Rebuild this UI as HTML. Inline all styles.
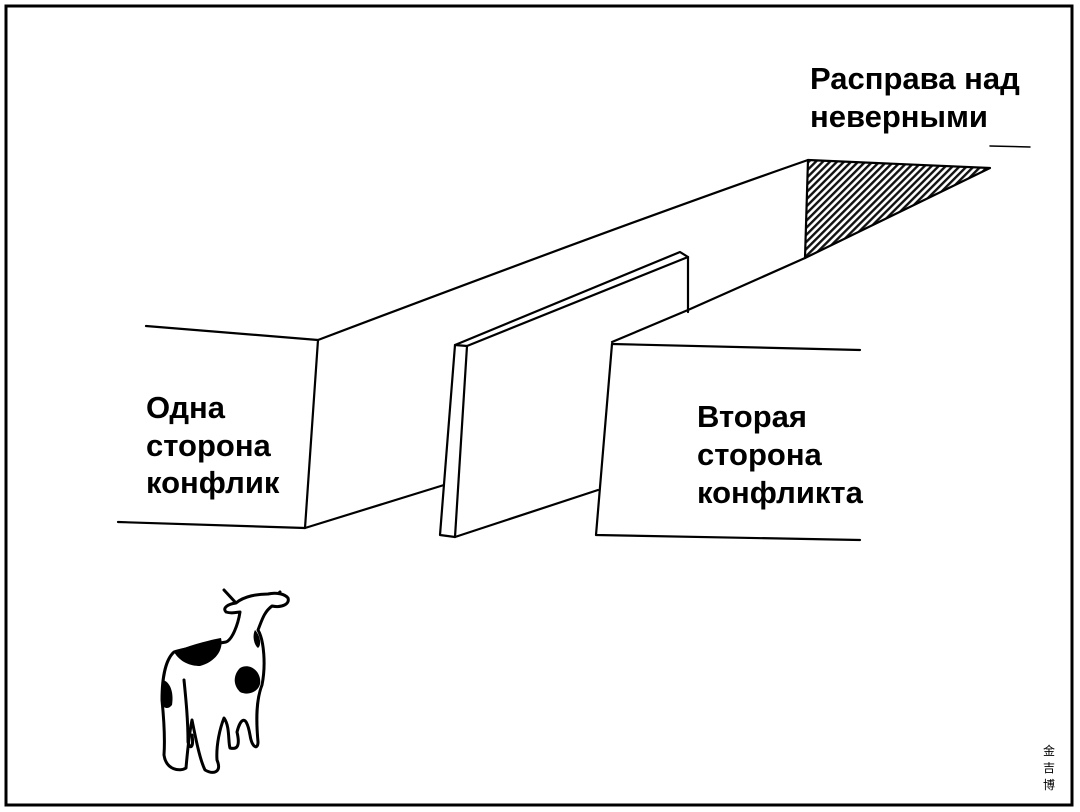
<!DOCTYPE html>
<html><head><meta charset="utf-8"><style>
html,body{margin:0;padding:0;background:#fff;}
svg{display:block}
text{font-family:"Liberation Sans",sans-serif;font-weight:bold;font-size:31px;fill:#000}
</style></head><body>
<svg width="1080" height="812" viewBox="0 0 1080 812" xmlns="http://www.w3.org/2000/svg">
<defs>
<pattern id="h" width="5" height="5" patternUnits="userSpaceOnUse" patternTransform="rotate(45)">
<rect width="5" height="5" fill="#fff"/><rect width="2.4" height="5" fill="#111"/></pattern>
</defs>
<rect x="6" y="6" width="1066" height="799" fill="none" stroke="#000" stroke-width="3"/>
<g fill="none" stroke="#000" stroke-width="2.2" stroke-linecap="round" stroke-linejoin="round">
<polygon points="808,160 990,168 805,258" fill="url(#h)"/>
<path d="M146,326 L318,340 L305,528 L118,522"/>
<path d="M318,340 C450,290 650,215 808,160"/>
<path d="M305,528 L444,485"/>
<path d="M612,342 L688,310 M688,310 L805,258"/>
<path d="M455,345 L440,535 L455,537 L467,346 Z" fill="#fff"/>
<path d="M455,345 L680,252 L688,257 L467,346"/>
<path d="M688,257 L688,312"/>
<path d="M455,537 L598,490"/>
<path d="M612,344 L860,350"/>
<path d="M612,344 L596,535 L860,540"/>
<path d="M990,146 L1030,147" stroke-width="1.5"/>
<g stroke-width="3">
<path d="M224,590 L236,603 M280,592 L268,603"/>
<path d="M236,603 C228,604 222,608 226,612 C232,614 238,612 240,612 C238,625 232,640 226,642 C210,645 185,648 174,652 C165,660 162,680 162,700 C164,720 165,740 164,755 C166,770 180,772 186,768 C188,745 190,730 192,720 C196,740 200,760 205,770 C214,775 222,772 217,760 C216,745 220,728 224,718 C230,726 228,742 230,748 C238,750 240,745 237,732 C240,720 246,712 250,735 C252,748 258,750 258,742 C256,720 256,700 262,685 C266,665 264,640 258,630 C262,620 264,612 272,606 C282,608 290,604 288,598 C285,594 276,592 268,594 C258,594 244,596 236,603 Z" fill="#fff"/>
<path d="M184,680 C186,700 188,720 188,742 C190,750 194,748 192,735"/>
</g>
<g fill="#000" stroke="none">
<path d="M174,652 C190,645 210,640 221,638 C224,650 215,662 200,666 C190,666 180,662 174,652 Z"/>
<path d="M240,668 C250,662 262,672 260,684 C258,692 248,696 240,692 C232,684 234,674 240,668 Z"/>
<path d="M163,680 C170,682 174,692 172,705 C168,710 164,708 162,705 Z"/>
<path d="M255,630 C260,635 262,645 258,648 C254,645 252,636 255,630 Z"/>
</g>
</g>
<text x="810" y="89">Расправа над</text>
<text x="810" y="127">неверными</text>
<text x="146" y="418">Одна</text>
<text x="146" y="456">сторона</text>
<text x="146" y="493">конфлик</text>
<text x="697" y="427">Вторая</text>
<text x="697" y="465">сторона</text>
<text x="697" y="503">конфликта</text>
<text x="1043" y="755" style="font-size:12px;font-weight:normal;font-family:'Noto Sans CJK SC',sans-serif">金</text>
<text x="1043" y="772" style="font-size:12px;font-weight:normal;font-family:'Noto Sans CJK SC',sans-serif">吉</text>
<text x="1043" y="789" style="font-size:12px;font-weight:normal;font-family:'Noto Sans CJK SC',sans-serif">博</text>
</svg>
</body></html>
